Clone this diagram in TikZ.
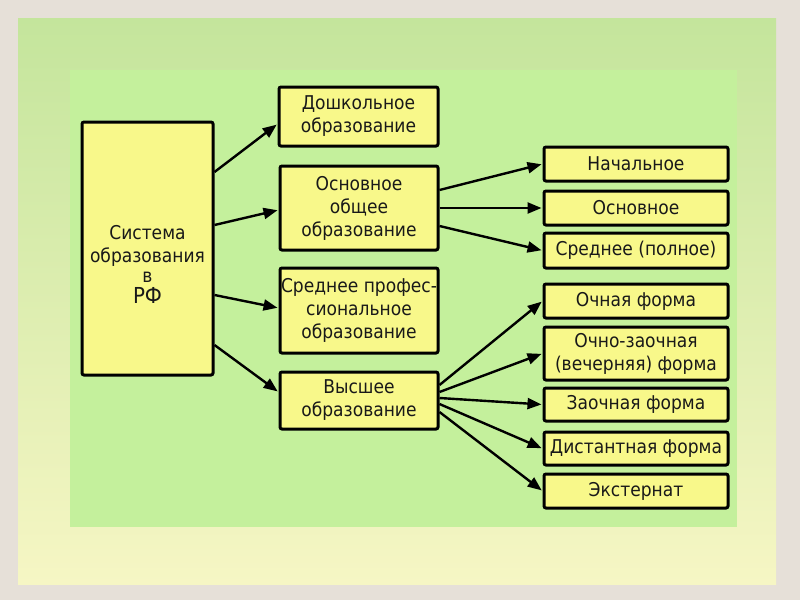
\documentclass[tikz,border=0pt]{standalone}
\usepackage{fontspec}
\setmainfont{DejaVu Sans Condensed}
\usetikzlibrary{arrows.meta,calc}
\definecolor{outerbg}{HTML}{E6E0D8}
\definecolor{paneltop}{HTML}{C4E59C}
\definecolor{panelbot}{HTML}{F6F6C4}
\definecolor{innerbg}{HTML}{C4F09C}
\definecolor{boxy}{HTML}{F8F88A}
\tikzset{
  boxtext/.style={align=center, inner sep=0pt, font=\fontsize{19}{23}\selectfont, text=black!90},
  box/.style={boxtext, draw, line width=3pt, fill=boxy, rounded corners=2pt},
  arr/.style={line width=2.4pt, -{Triangle[length=14pt,width=11pt]}, shorten >=1pt},
}
\begin{document}
\begin{tikzpicture}[x=1pt,y=-1pt]
\useasboundingbox (0,0) rectangle (800,600);
\fill[outerbg] (0,0) rectangle (800,600);
\shade[top color=paneltop, bottom color=panelbot] (18,18) rectangle (776,584);
\fill[innerbg] (70,70) rectangle (737,527);

\node[box, minimum width=131pt, minimum height=253pt] (main) at (147.5,248.5) {};
\node[boxtext] (mainlbl) at ($(main.center)+(0,16)$) {Система\\образования\\[-3pt]в\\[-2pt]{\fontsize{22}{24}\selectfont РФ}};
\node[box, minimum width=159pt, minimum height=59pt] (dosh) at (358.5,116.5) {Дошкольное\\образование};
\node[box, minimum width=158pt, minimum height=84pt] (osn) at (359,208) {Основное\\общее\\образование};
\node[box, minimum width=158pt, minimum height=85pt] (spo) at (359,310.5) {Среднее профес-\\сиональное\\образование};
\node[box, minimum width=158pt, minimum height=57pt] (vys) at (359,400.5) {Высшее\\образование};

\node[box, minimum width=184pt, minimum height=34pt] (nach) at (636,164) {Начальное};
\node[box, minimum width=184pt, minimum height=34pt] (osnv) at (636,208) {Основное};
\node[box, minimum width=184pt, minimum height=35pt] (sred) at (636,250.5) {Среднее (полное)};
\node[box, minimum width=184pt, minimum height=34pt] (ochn) at (636,301) {Очная форма};
\node[box, minimum width=184pt, minimum height=53pt] (ochz) at (636,353.5) {Очно-заочная\\(вечерняя) форма};
\node[box, minimum width=184pt, minimum height=33pt] (zaoch) at (636,404.5) {Заочная форма};
\node[box, minimum width=184pt, minimum height=33pt] (dist) at (636,448.5) {Дистантная форма};
\node[box, minimum width=184pt, minimum height=34pt] (ext) at (636,491) {Экстернат};

\draw[arr] (main.east |- 0,172) -- (dosh.west |- 0,124);
\draw[arr] (main.east |- 0,225) -- (osn.west |- 0,210);
\draw[arr] (main.east |- 0,295) -- (spo.west |- 0,308);
\draw[arr] (main.east |- 0,345) -- (vys.west |- 0,392);

\draw[arr] (osn.east |- 0,190) -- (nach.west);
\draw[arr] (osn.east |- 0,208) -- (osnv.west);
\draw[arr] (osn.east |- 0,226) -- (sred.west);

\draw[arr] (vys.east |- 0,385) -- (ochn.west);
\draw[arr] (vys.east |- 0,392) -- (ochz.west);
\draw[arr] (vys.east |- 0,398) -- (zaoch.west);
\draw[arr] (vys.east |- 0,404) -- (dist.west);
\draw[arr] (vys.east |- 0,412) -- (ext.west);
\end{tikzpicture}
\end{document}
